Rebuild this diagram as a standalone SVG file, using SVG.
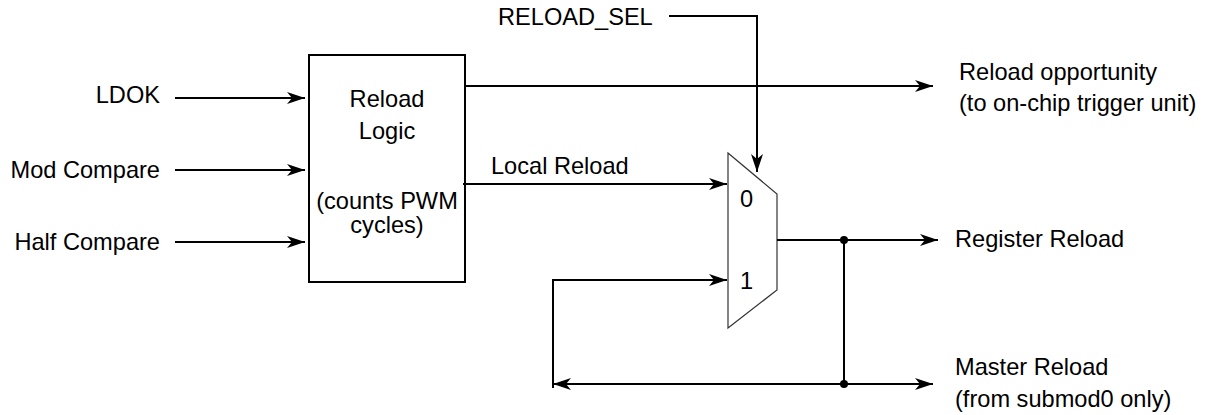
<svg xmlns="http://www.w3.org/2000/svg" width="1209" height="415" viewBox="0 0 1209 415">
<style>
text{font-family:"Liberation Sans",Arial,Helvetica,sans-serif;font-size:23.6px;fill:#000}
.w{fill:none;stroke:#000;stroke-width:2}
.r{text-anchor:end}
.m{text-anchor:middle}
</style>
<defs>
<marker id="ah" viewBox="0 0 18 12" refX="18" refY="6" markerWidth="18" markerHeight="12" markerUnits="userSpaceOnUse" orient="auto-start-reverse">
<path d="M0,0 L18,6 L0,12 L5,6 Z" fill="#000"/>
</marker>
</defs>
<rect width="1209" height="415" fill="#fff"/>
<g id="labels-in">
<text class="r" x="160" y="103">LDOK</text>
<text class="r" x="160" y="178">Mod Compare</text>
<text class="r" x="160" y="250">Half Compare</text>
</g>
<g id="reload-logic">
<rect x="309" y="55" width="156" height="227" class="w"/>
<text class="m" x="387" y="107">Reload</text>
<text class="m" x="387" y="139">Logic</text>
<text class="m" x="387" y="209">(counts PWM</text>
<text class="m" x="387" y="233">cycles)</text>
</g>
<g id="mux">
<path d="M728,153 L777,194 L777,290 L728,328 Z" fill="#fff" stroke="#333" stroke-width="1.2"/>
<text x="740" y="207">0</text>
<text x="740" y="289">1</text>
</g>
<g id="reload-sel"><text x="498" y="25">RELOAD_SEL</text></g>
<g id="reload-opportunity">
<text x="959" y="80">Reload opportunity</text>
<text x="959" y="111">(to on-chip trigger unit)</text>
</g>
<g id="register-reload"><text x="955" y="247">Register Reload</text></g>
<g id="master-reload">
<text x="955" y="375">Master Reload</text>
<text x="955" y="407">(from submod0 only)</text>
</g>
<g id="local-reload-label"><text x="491" y="174">Local Reload</text></g>
<g id="connectors">
<line x1="175" y1="98" x2="305" y2="98" class="w" marker-end="url(#ah)"/>
<line x1="175" y1="170" x2="305" y2="170" class="w" marker-end="url(#ah)"/>
<line x1="175" y1="242" x2="305" y2="242" class="w" marker-end="url(#ah)"/>
<line x1="465" y1="86" x2="933" y2="86" class="w" marker-end="url(#ah)"/>
<polyline points="669,16 757,16 757,172" class="w" marker-end="url(#ah)"/>
<line x1="463" y1="184" x2="727" y2="184" class="w" marker-end="url(#ah)"/>
<polyline points="553,388 553,280 727,280" class="w" marker-end="url(#ah)"/>
<line x1="777" y1="240" x2="938" y2="240" class="w" marker-end="url(#ah)"/>
<line x1="844" y1="240" x2="844" y2="384" class="w"/>
<line x1="553" y1="384" x2="933" y2="384" class="w" marker-start="url(#ah)" marker-end="url(#ah)"/>
<circle cx="844" cy="240" r="4" fill="#000"/>
<circle cx="844" cy="384" r="4" fill="#000"/>
</g>
</svg>
